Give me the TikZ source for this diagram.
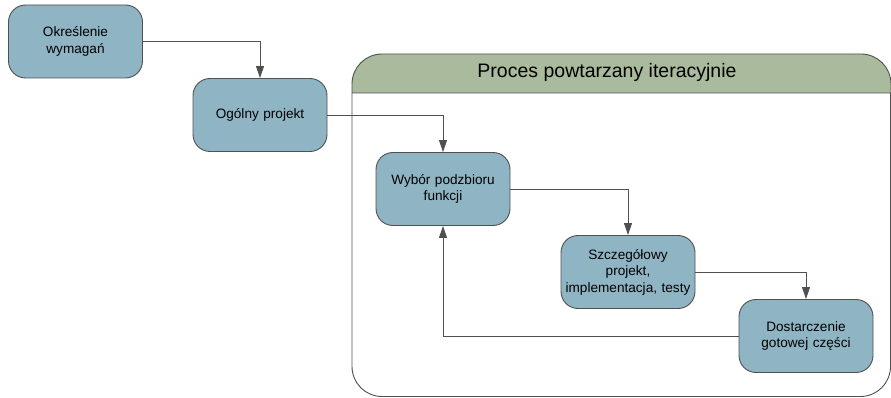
\documentclass[tikz,border=0pt]{standalone}
\usepackage{fontspec}
\setmainfont{Liberation Sans}
\usetikzlibrary{arrows.meta}
\definecolor{boxfill}{HTML}{8FB4C3}
\definecolor{headfill}{HTML}{AABA9C}
\definecolor{linegray}{HTML}{505050}
\begin{document}
\begin{tikzpicture}[x = {(1pt, 0pt)}, y = {(0pt, -1pt)},
    krok/.style = {draw = linegray, fill = boxfill, rounded corners = 17pt,
      line width = 0.9pt, minimum width = 134pt, minimum height = 73pt,
      text width = 130pt, align = center, inner sep = 1pt,
      font = \fontsize{13.6}{16.5}\selectfont},
    strz/.style = {draw = linegray, line width = 0.9pt,
      -{Triangle[width = 8pt, length = 12pt]}}]
  \useasboundingbox (0, 0) rectangle (891, 398);

  % ramka procesu iteracyjnego
  \draw[draw = linegray, line width = 0.9pt, fill = headfill]
    (352, 93) {[rounded corners = 30pt] -- (352, 54) -- (891, 54)} -- (891, 93) -- cycle;
  \draw[draw = linegray, line width = 0.9pt]
    (352, 93) {[rounded corners = 30pt] -- (352, 396.5) -- (890.5, 396.5)} -- (890.5, 93);
  \node (title) at (607, 72) {\fontsize{19.5}{22}\selectfont Proces powtarzany iteracyjnie};

  \node[krok] (v1) at (75.5, 41.5) {Określenie\\wymagań};

  \node[krok] (v2) at (260, 115) {Ogólny projekt};
  \draw[strz] (v1) -| (v2);

  \node[krok] (v3) at (443, 189) {Wybór podzbioru\\funkcji};
  \draw[strz] (v2) -| (v3);

  \node[krok] (v4) at (628, 272) {Szczegółowy\\projekt,\\implementacja, testy};
  \draw[strz] (v3) -| (v4);

  \node[krok] (v5) at (806, 336) {Dostarczenie\\gotowej części};
  \draw[strz] (v4) -| (v5);
  \draw[strz] (v5) -| (v3);
\end{tikzpicture}
\end{document}
